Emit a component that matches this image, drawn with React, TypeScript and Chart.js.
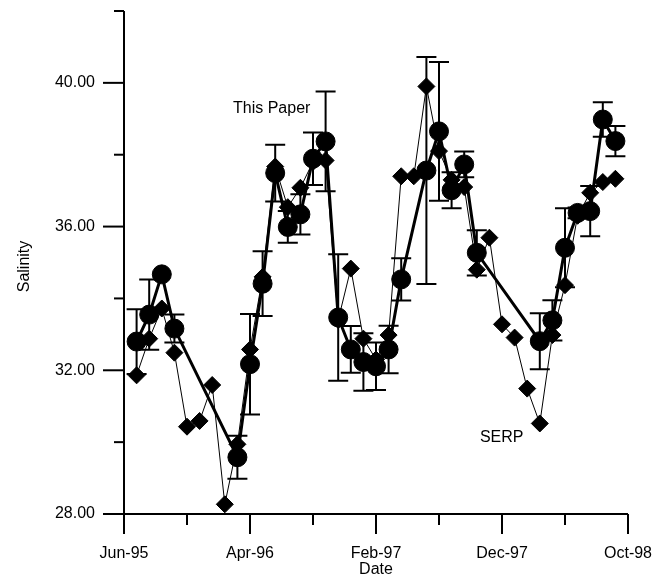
import React, { useEffect, useRef } from 'react';
import { Chart, registerables } from 'chart.js';

Chart.register(...registerables);

// Months counted from Jun-95 (0) to Oct-98 (40)
const dateLabels = ['Jun-95', 'Apr-96', 'Feb-97', 'Dec-97', 'Oct-98'];

// "This Paper" monthly means with their error half-widths
const paperMonths = [1, 2, 3, 4, 9, 10, 11, 12, 13, 14, 15, 16, 17, 18, 19, 20, 21, 22, 24, 25, 26, 27, 28, 33, 34, 35, 36, 37, 38, 39];
const paperSalinity = [32.8, 33.55, 34.67, 33.16, 29.58, 32.17, 34.41, 37.49, 35.99, 36.34, 37.89, 38.37, 33.47, 32.58, 32.23, 32.11, 32.58, 34.53, 37.56, 38.65, 37.01, 37.73, 35.27, 32.81, 33.39, 35.41, 36.38, 36.43, 38.98, 38.38];
const paperError = [0.9, 0.98, 0, 0.39, 0.6, 1.4, 0.9, 0.79, 0.44, 0.56, 0.73, 1.39, 1.76, 0.65, 0.8, 0.66, 0.66, 0.59, 3.16, 1.93, 0.5, 0.36, 0.63, 0.78, 0.56, 1.1, 0.15, 0.7, 0.48, 0.42];

// SERP monthly values
const serpMonths = [1, 2, 3, 4, 5, 6, 7, 8, 9, 10, 11, 12, 13, 14, 15, 16, 17, 18, 19, 20, 21, 22, 23, 24, 25, 26, 27, 28, 29, 30, 31, 32, 33, 34, 35, 36, 37, 38, 39];
const serpSalinity = [31.86, 32.88, 33.72, 32.49, 30.43, 30.59, 31.59, 28.27, 29.94, 32.58, 34.6, 37.67, 36.54, 37.08, 37.8, 37.84, 33.4, 34.83, 32.88, 32.3, 32.98, 37.4, 37.4, 39.9, 38.1, 37.3, 37.1, 34.8, 35.69, 33.28, 32.91, 31.49, 30.52, 32.98, 34.37, 36.3, 36.94, 37.24, 37.33];

// Text annotations anchored in data space
const paperNote = { text: 'This Paper', month: 8.65, salinity: 39.29 };
const serpNote = { text: 'SERP', month: 28.25, salinity: 30.14 };

const FONT = '"Liberation Sans", Arial, Helvetica, sans-serif';

const axesPlugin = {
  id: 'axesAndBars',
  beforeDatasetsDraw(chart: any) {
    const { ctx } = chart;
    const xs = chart.scales.x;
    const ys = chart.scales.y;
    const ds = chart.data.datasets[0];
    ctx.save();
    ctx.strokeStyle = '#000';
    ctx.lineWidth = 2;
    ds.data.forEach((p: any, i: number) => {
      const e = paperError[i];
      if (!e) return;
      const x = xs.getPixelForValue(p.x);
      const yTop = ys.getPixelForValue(p.y + e);
      const yBot = ys.getPixelForValue(p.y - e);
      ctx.beginPath();
      ctx.moveTo(x, yTop);
      ctx.lineTo(x, yBot);
      ctx.moveTo(x - 10, yTop);
      ctx.lineTo(x + 10, yTop);
      ctx.moveTo(x - 10, yBot);
      ctx.lineTo(x + 10, yBot);
      ctx.stroke();
    });
    ctx.restore();
  },
  afterDraw(chart: any) {
    const { ctx, chartArea } = chart;
    const xs = chart.scales.x;
    const ys = chart.scales.y;
    ctx.save();
    ctx.strokeStyle = '#000';
    ctx.lineWidth = 2;
    ctx.lineCap = 'butt';
    const left = chartArea.left;
    const bottom = chartArea.bottom;
    // axis lines
    ctx.beginPath();
    ctx.moveTo(left, ys.getPixelForValue(42));
    ctx.lineTo(left, bottom);
    ctx.moveTo(left, bottom);
    ctx.lineTo(xs.getPixelForValue(40), bottom);
    ctx.stroke();
    // x ticks: long every 10 months, short in between
    for (let m = 0; m <= 40; m += 5) {
      const x = xs.getPixelForValue(m);
      const len = m % 10 === 0 ? 20 : 11;
      ctx.beginPath();
      ctx.moveTo(x, bottom);
      ctx.lineTo(x, bottom + len);
      ctx.stroke();
    }
    // y ticks: long every 4, short in between
    for (let v = 28; v <= 42; v += 2) {
      const y = ys.getPixelForValue(v);
      const len = (v - 28) % 4 === 0 ? 21 : 10;
      ctx.beginPath();
      ctx.moveTo(left, y);
      ctx.lineTo(left - len, y);
      ctx.stroke();
    }
    // axis titles
    ctx.fillStyle = '#000';
    ctx.font = `16px ${FONT}`;
    ctx.textAlign = 'center';
    ctx.textBaseline = 'middle';
    ctx.fillText('Date', (chartArea.left + chartArea.right) / 2, 570);
    ctx.save();
    ctx.translate(25, (chartArea.top + chartArea.bottom) / 2 + 4);
    ctx.rotate(-Math.PI / 2);
    ctx.fillText('Salinity', 0, 0);
    ctx.restore();
    // series notes
    ctx.textAlign = 'left';
    [paperNote, serpNote].forEach((n) => {
      ctx.fillText(n.text, xs.getPixelForValue(n.month), ys.getPixelForValue(n.salinity));
    });
    ctx.restore();
  },
};

export default function App() {
  const canvasRef = useRef<HTMLCanvasElement | null>(null);

  useEffect(() => {
    const canvas = canvasRef.current;
    if (!canvas) return;
    const chart = new Chart(canvas, {
      type: 'line',
      data: {
        datasets: [
          {
            label: 'This Paper',
            data: paperMonths.map((m, i) => ({ x: m, y: paperSalinity[i] })),
            borderColor: '#000',
            backgroundColor: '#000',
            borderWidth: 3,
            pointStyle: 'circle',
            pointRadius: 9.5,
            pointBorderWidth: 1,
            pointBackgroundColor: '#000',
            pointBorderColor: '#000',
            tension: 0,
          },
          {
            label: 'SERP',
            data: serpMonths.map((m, i) => ({ x: m, y: serpSalinity[i] })),
            borderColor: '#000',
            backgroundColor: '#000',
            borderWidth: 1,
            pointStyle: 'rectRot',
            pointRadius: 8.5,
            pointBorderWidth: 1,
            pointBackgroundColor: '#000',
            pointBorderColor: '#000',
            tension: 0,
          },
        ],
      },
      options: {
        responsive: false,
        animation: false,
        devicePixelRatio: 1,
        layout: { padding: { top: 11, right: 37, left: 0, bottom: 0 } },
        plugins: {
          legend: { display: false },
          tooltip: { enabled: false },
        },
        scales: {
          x: {
            type: 'linear',
            min: 0,
            max: 40,
            grid: { display: false, drawTicks: false },
            border: { display: false },
            ticks: {
              stepSize: 5,
              autoSkip: false,
              maxRotation: 0,
              padding: 30,
              color: '#000',
              font: { family: FONT, size: 16 },
              callback: (v: any) => (Number(v) % 10 === 0 ? dateLabels[Number(v) / 10] : ''),
            },
            afterFit: (s: any) => {
              s.height = 64;
              s.paddingLeft = 0;
              s.paddingRight = 0;
            },
          },
          y: {
            type: 'linear',
            min: 28,
            max: 42,
            grid: { display: false, drawTicks: false },
            border: { display: false },
            ticks: {
              stepSize: 2,
              padding: 29,
              color: '#000',
              font: { family: FONT, size: 16 },
              callback: (v: any) => ((Number(v) - 28) % 4 === 0 ? Number(v).toFixed(2) : ''),
            },
            afterFit: (s: any) => {
              s.width = 124;
              s.paddingTop = 0;
              s.paddingBottom = 0;
            },
          },
        },
      },
      plugins: [axesPlugin],
    });
    return () => chart.destroy();
  }, []);

  return (
    <div style={{ position: 'absolute', left: 0, top: 0, width: 665, height: 578, background: '#fff' }}>
      <canvas ref={canvasRef} width={665} height={578} style={{ display: 'block' }} />
    </div>
  );
}
